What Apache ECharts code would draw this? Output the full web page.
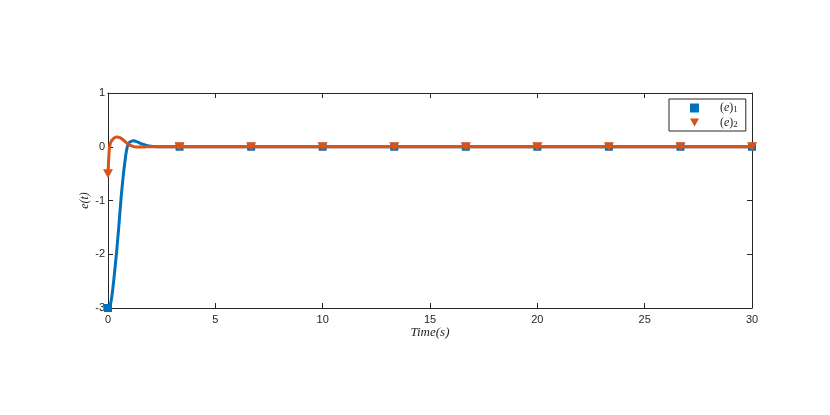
<!DOCTYPE html>
<html>
<head>
<meta charset="utf-8">
<script src="https://cdn.jsdelivr.net/npm/echarts@6/dist/echarts.min.js"></script>
<style>html,body{margin:0;padding:0;background:#fff;}#c{width:830px;height:415px;}</style>
</head>
<body>
<div id="c"></div>
<script>
// Curve samples
const timeE1 = [0,0.05,0.1,0.15,0.2,0.25,0.3,0.35,0.4,0.45,0.5,0.55,0.6,0.65,0.7,0.75,0.8,0.85,0.9,0.95,1.0,1.1,1.2,1.3,1.4,1.5,1.6,1.8,2.0,2.2,2.5,3,30];
const valE1  = [-3,-2.99,-2.95,-2.86,-2.72,-2.55,-2.36,-2.16,-1.96,-1.73,-1.5,-1.25,-1.0,-0.78,-0.58,-0.4,-0.24,-0.1,0.0,0.05,0.08,0.105,0.11,0.1,0.085,0.065,0.05,0.025,0.01,0.004,0,0,0];
const timeE2 = [0,0.03,0.06,0.1,0.15,0.2,0.25,0.3,0.4,0.5,0.6,0.7,0.8,0.9,1.0,1.1,1.2,1.3,1.4,1.6,1.8,2.0,30];
const valE2  = [-0.5,-0.25,-0.05,0.05,0.1,0.13,0.15,0.167,0.18,0.178,0.16,0.13,0.095,0.06,0.035,0.015,0.003,-0.003,-0.005,-0.004,-0.002,0,0];
// Marker samples
const markerTimes = [0,3.333,6.667,10,13.333,16.667,20,23.333,26.667,30];
const markerE1 = [-3,0,0,0,0,0,0,0,0,0];
const markerE2 = [-0.5,0,0,0,0,0,0,0,0,0];
const xTicks = [0,5,10,15,20,25,30];
const yTicks = [-3,-2,-1,0,1];
const seriesNames = ['(e)1','(e)2'];

const zip = (a,b) => a.map((v,i)=>[v,b[i]]);
const axisColor = '#262626';
const blue = '#0072BD', orange = '#D95319';
const tri = 'path://M0,0L10,0L5,9Z';

const chart = echarts.init(document.getElementById('c'), null, {renderer:'canvas'});
const baseX = {type:'value', min:xTicks[0], max:xTicks[xTicks.length-1], interval:5,
  axisLine:{show:true, onZero:false, lineStyle:{color:axisColor, width:1}},
  axisTick:{show:true, inside:true, length:5, lineStyle:{color:axisColor}},
  splitLine:{show:false}};
const baseY = {type:'value', min:yTicks[0], max:yTicks[yTicks.length-1], interval:1,
  axisLine:{show:true, onZero:false, lineStyle:{color:axisColor, width:1}},
  axisTick:{show:true, inside:true, length:5, lineStyle:{color:axisColor}},
  splitLine:{show:false}};

chart.setOption({
  animation:false,
  backgroundColor:'#fff',
  grid:{left:108, right:78, top:93, bottom:107},
  xAxis:[
    Object.assign({}, baseX, {position:'bottom',
      axisLabel:{color:axisColor, fontSize:11, fontFamily:'Liberation Sans, Arial', margin:6},
      name:'Time(s)', nameLocation:'middle', nameGap:18, nameMoveOverlap:false,
      nameTextStyle:{color:axisColor, fontSize:13, fontStyle:'italic', fontFamily:'Liberation Serif, DejaVu Serif, serif'}}),
    Object.assign({}, baseX, {position:'top', axisLabel:{show:false}})
  ],
  yAxis:[
    Object.assign({}, baseY, {position:'left',
      axisLabel:{color:axisColor, fontSize:11, fontFamily:'Liberation Sans, Arial', margin:3},
      name:'e(t)', nameLocation:'middle', nameGap:17, nameRotate:90, nameMoveOverlap:false,
      nameTextStyle:{color:axisColor, fontSize:12, fontStyle:'italic', fontFamily:'Liberation Serif, DejaVu Serif, serif'}}),
    Object.assign({}, baseY, {position:'right', axisLabel:{show:false}})
  ],
  legend:{
    orient:'vertical', left:669, top:99,
    data:[{name:seriesNames[0], icon:'rect'},{name:seriesNames[1], icon:tri}],
    itemWidth:9, itemHeight:9, itemGap:2,
    padding:[3,8,2,21],
    borderColor:axisColor, borderWidth:1, backgroundColor:'#fff', borderRadius:0,
    formatter: n => '{p|(}{e|e}{p|)}{s|' + n.slice(-1) + '}',
    textStyle:{
      rich:{
        p:{fontSize:12, fontFamily:'Liberation Serif, serif', color:axisColor},
        e:{fontSize:12, fontStyle:'italic', fontFamily:'Liberation Serif, serif', color:axisColor},
        s:{fontSize:9, fontFamily:'Liberation Serif, serif', color:axisColor, verticalAlign:'bottom', padding:[4,0,0,0]}
      },
      padding:[0,0,0,16]
    }
  },
  series:[
    {type:'line', name:'e1line', data:zip(timeE1,valE1), showSymbol:false, smooth:0.3,
      lineStyle:{color:blue, width:3}, itemStyle:{color:blue}, z:2},
    {type:'scatter', name:seriesNames[0], data:zip(markerTimes,markerE1), symbol:'rect', symbolSize:8,
      itemStyle:{color:blue, opacity:1}, z:3},
    {type:'line', name:'e2line', data:zip(timeE2,valE2), showSymbol:false, smooth:0.3,
      lineStyle:{color:orange, width:3}, itemStyle:{color:orange}, z:4},
    {type:'scatter', name:seriesNames[1], data:zip(markerTimes,markerE2), symbol:tri, symbolSize:[10,9],
      itemStyle:{color:orange, opacity:1}, z:5}
  ]
});
</script>
</body>
</html>
